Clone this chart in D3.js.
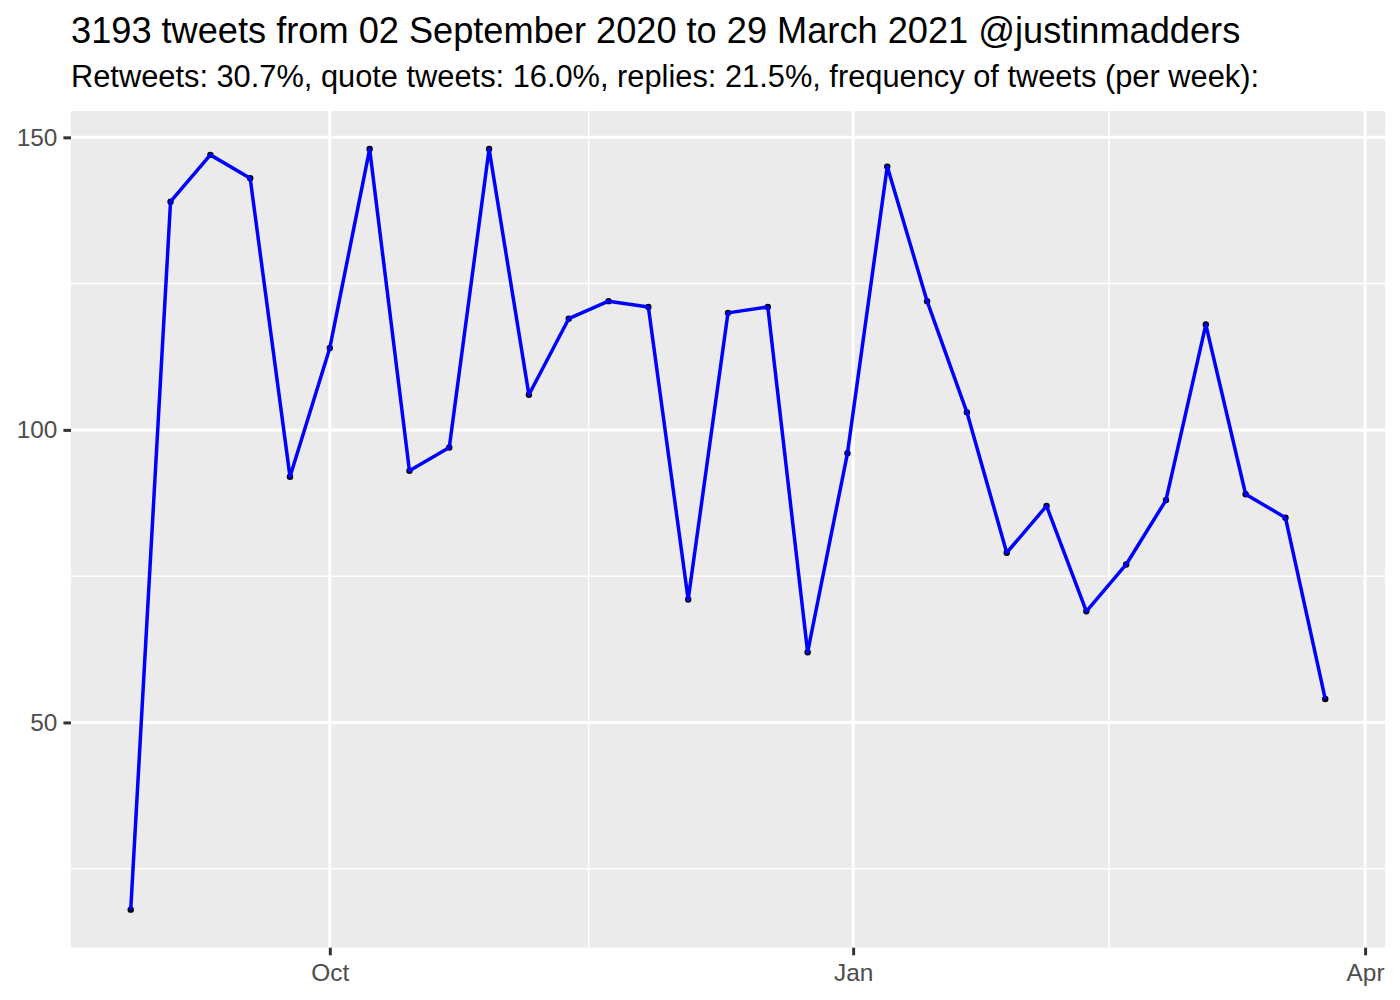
<!DOCTYPE html>
<html><head><meta charset="utf-8">
<script src="https://cdn.jsdelivr.net/npm/d3@7"></script>
<style>body{margin:0;background:#fff}svg{display:block}text{font-family:"Liberation Sans",Arial,Helvetica,sans-serif}</style>
</head><body><svg id="c" width="1400" height="1000"></svg>
<script>
const titleText = "3193 tweets from 02 September 2020 to 29 March 2021 @justinmadders";
const subtitleText = "Retweets: 30.7%, quote tweets: 16.0%, replies: 21.5%, frequency of tweets (per week):";
const weeks = ["2020-08-27","2020-09-03","2020-09-10","2020-09-17","2020-09-24","2020-10-01","2020-10-08","2020-10-15","2020-10-22","2020-10-29","2020-11-05","2020-11-12","2020-11-19","2020-11-26","2020-12-03","2020-12-10","2020-12-17","2020-12-24","2020-12-31","2021-01-07","2021-01-14","2021-01-21","2021-01-28","2021-02-04","2021-02-11","2021-02-18","2021-02-25","2021-03-04","2021-03-11","2021-03-18","2021-03-25"];
const counts = [18,139,147,143,92,114,148,93,97,148,106,119,122,121,71,120,121,62,96,145,122,103,79,87,69,77,88,118,89,85,54];
const xTicks = ["2020-10-01","2021-01-01","2021-04-01"];
const xTickLabels = ["Oct","Jan","Apr"];
const xMinor = ["2020-11-15T12:00:00Z","2021-02-15T00:00:00Z"];
const yTicks = [50,100,150];
const yMinor = [25,75,125];

const svg = d3.select("#c");
const L = 71, R = 1385, T = 111, B = 947.7;
const parse = s => new Date(s.length === 10 ? s + "T00:00:00Z" : s);
const dates = weeks.map(parse);
const ext = d3.extent(dates);
const span = ext[1] - ext[0];
const x = d3.scaleUtc().domain([new Date(+ext[0] - span*0.05), new Date(+ext[1] + span*0.05)]).range([L, R]);
const yext = d3.extent(counts);
const ys = yext[1] - yext[0];
const y = d3.scaleLinear().domain([yext[0] - ys*0.05, yext[1] + ys*0.05]).range([B, T]);

svg.append("rect").attr("x", L).attr("y", T).attr("width", R-L).attr("height", B-T).attr("fill", "#EBEBEB");
const g = svg.append("g");
yMinor.forEach(v => g.append("line").attr("x1", L).attr("x2", R).attr("y1", y(v)).attr("y2", y(v)).attr("stroke", "#fff").attr("stroke-width", 1.5));
xMinor.map(parse).forEach(d => g.append("line").attr("y1", T).attr("y2", B).attr("x1", x(d)).attr("x2", x(d)).attr("stroke", "#fff").attr("stroke-width", 1.5));
yTicks.forEach(v => g.append("line").attr("x1", L).attr("x2", R).attr("y1", y(v)).attr("y2", y(v)).attr("stroke", "#fff").attr("stroke-width", 3));
xTicks.map(parse).forEach(d => g.append("line").attr("y1", T).attr("y2", B).attr("x1", x(d)).attr("x2", x(d)).attr("stroke", "#fff").attr("stroke-width", 3));

// axes
const xAxis = d3.axisBottom(x).tickValues(xTicks.map(parse)).tickFormat((d,i) => xTickLabels[i]).tickSize(7.6).tickPadding(6);
const ax = svg.append("g").attr("transform", `translate(0,${B})`).call(xAxis);
const yAxis = d3.axisLeft(y).tickValues(yTicks).tickSize(7.6).tickPadding(6);
const ay = svg.append("g").attr("transform", `translate(${L},0)`).call(yAxis);
[ax, ay].forEach(a => {
  a.select(".domain").remove();
  a.selectAll(".tick line").attr("stroke", "#333333").attr("stroke-width", 3);
  a.selectAll(".tick text").attr("fill", "#4D4D4D").style("font-size", "24.4px").style("font-family", '"Liberation Sans",Arial,sans-serif');
});
ax.selectAll(".tick text").attr("dy", "0.8em");

// points then line
svg.append("g").selectAll("circle").data(counts).join("circle")
  .attr("cx", (d,i) => x(dates[i])).attr("cy", d => y(d)).attr("r", 3.2).attr("fill", "#000");
const line = d3.line().x((d,i) => x(dates[i])).y(d => y(d));
svg.append("path").datum(counts).attr("d", line).attr("fill", "none").attr("stroke", "#0000FF").attr("stroke-width", 3.5).attr("stroke-linejoin", "round");

svg.append("text").attr("x", L).attr("y", 43).attr("font-size", 36.2).attr("fill", "#000").text(titleText);
svg.append("text").attr("x", L).attr("y", 87).attr("font-size", 30.8).attr("fill", "#000").text(subtitleText);
</script></body></html>
